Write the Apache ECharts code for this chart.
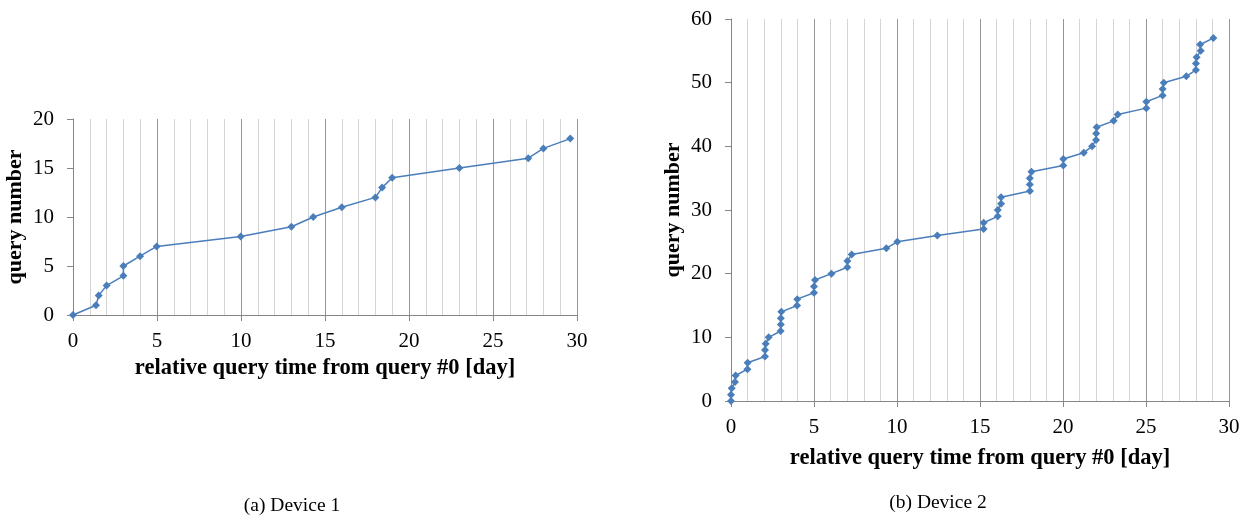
<!DOCTYPE html>
<html>
<head>
<meta charset="utf-8">
<script src="https://cdn.jsdelivr.net/npm/echarts@6/dist/echarts.min.js"></script>
<style>
  html, body { margin: 0; padding: 0; background: #fff; }
  #main { width: 1250px; height: 520px; }
</style>
</head>
<body>
<div id="main"></div>
<script>
// device 1: day of each query relative to query #0
var dev1Days = [0, 1.37, 1.53, 2.0, 3.0, 3.0, 3.99, 4.98, 9.98, 13.0, 14.3, 16.0, 18.0, 18.4, 19.0, 23.0, 27.1, 28.0, 29.6];
var dev1Queries = [0, 1, 2, 3, 4, 5, 6, 7, 8, 9, 10, 11, 12, 13, 14, 15, 16, 17, 18];

// device 2
var dev2Days = [0, 0, 0.04, 0.24, 0.28, 0.99, 1.0, 2.05, 2.05, 2.09,
    2.27, 2.99, 3.0, 3.0, 3.03, 3.98, 3.99, 5.0, 5.0, 5.06,
    6.05, 7.01, 7.01, 7.27, 9.36, 10.02, 12.43, 15.22, 15.22, 16.07,
    16.07, 16.27, 16.27, 18.01, 18.0, 18.0, 18.1, 20.02, 20.02, 21.25,
    21.75, 21.99, 22.0, 22.03, 23.05, 23.3, 25.02, 25.02, 26.0, 26.0,
    26.07, 27.43, 28.01, 28.01, 28.05, 28.3, 28.26, 29.06];
var dev2Queries = [0, 1, 2, 3, 4, 5, 6, 7, 8, 9,
    10, 11, 12, 13, 14, 15, 16, 17, 18, 19,
    20, 21, 22, 23, 24, 25, 26, 27, 28, 29,
    30, 31, 32, 33, 34, 35, 36, 37, 38, 39,
    40, 41, 42, 43, 44, 45, 46, 47, 48, 49,
    50, 51, 52, 53, 54, 55, 56, 57];

var xTitle = 'relative query time from query #0 [day]';
var yTitle = 'query number';
var captions = ['(a) Device 1', '(b) Device 2'];

var serif = '"Liberation Serif", "Times New Roman", serif';
var blue = '#4a7ebb';
var axisGray = '#868686';

function pairs(xs, ys) {
    return xs.map(function (x, i) { return [x, ys[i]]; });
}

function xAxisFor(idx, gap) {
    return {
        gridIndex: idx,
        type: 'value',
        min: 0,
        max: 30,
        interval: 5,
        name: xTitle,
        nameLocation: 'middle',
        nameGap: gap,
        nameTextStyle: { fontFamily: serif, fontWeight: 'bold', fontSize: 22.5, color: '#000' },
        axisLine: { show: true, onZero: false, lineStyle: { color: axisGray, width: 1 } },
        axisTick: { show: true, length: 6, lineStyle: { color: axisGray } },
        axisLabel: { fontFamily: serif, fontSize: 21, color: '#000', margin: 16 },
        splitLine: { show: true, lineStyle: { color: '#959595', width: 1 } },
        minorTick: { show: false, splitNumber: 5 },
        minorSplitLine: { show: true, lineStyle: { color: '#d4d4d4', width: 1 } }
    };
}

function yAxisFor(idx, max, step) {
    return {
        gridIndex: idx,
        type: 'value',
        min: 0,
        max: max,
        interval: step,
        name: yTitle,
        nameLocation: 'middle',
        nameGap: 47,
        nameTextStyle: { fontFamily: serif, fontWeight: 'bold', fontSize: 22, color: '#000' },
        axisLine: { show: true, lineStyle: { color: axisGray, width: 1 } },
        axisTick: { show: true, length: 6, lineStyle: { color: axisGray } },
        axisLabel: { fontFamily: serif, fontSize: 21, color: '#000', margin: 19 },
        splitLine: { show: false }
    };
}

function lineSeries(idx, data) {
    return {
        type: 'line',
        xAxisIndex: idx,
        yAxisIndex: idx,
        data: data,
        symbol: 'diamond',
        symbolSize: 8,
        clip: false,
        itemStyle: { color: blue },
        lineStyle: { color: blue, width: 1.5 }
    };
}

var myChart = echarts.init(document.getElementById('main'), null, { renderer: 'canvas' });

var option = {
    animation: false,
    backgroundColor: '#fff',
    grid: [
        { left: 73, right: 673, top: 119, bottom: 205 },
        { left: 731, right: 21, top: 19, bottom: 119 }
    ],
    xAxis: [xAxisFor(0, 42), xAxisFor(1, 46)],
    yAxis: [yAxisFor(0, 20, 5), yAxisFor(1, 60, 10)],
    series: [
        lineSeries(0, pairs(dev1Days, dev1Queries)),
        lineSeries(1, pairs(dev2Days, dev2Queries))
    ],
    graphic: [
        {
            type: 'text', x: 292, y: 506,
            style: { text: captions[0], font: '19.5px ' + serif, fill: '#000', align: 'center', verticalAlign: 'middle' }
        },
        {
            type: 'text', x: 938, y: 503,
            style: { text: captions[1], font: '19.5px ' + serif, fill: '#000', align: 'center', verticalAlign: 'middle' }
        }
    ]
};

myChart.setOption(option);
</script>
</body>
</html>
